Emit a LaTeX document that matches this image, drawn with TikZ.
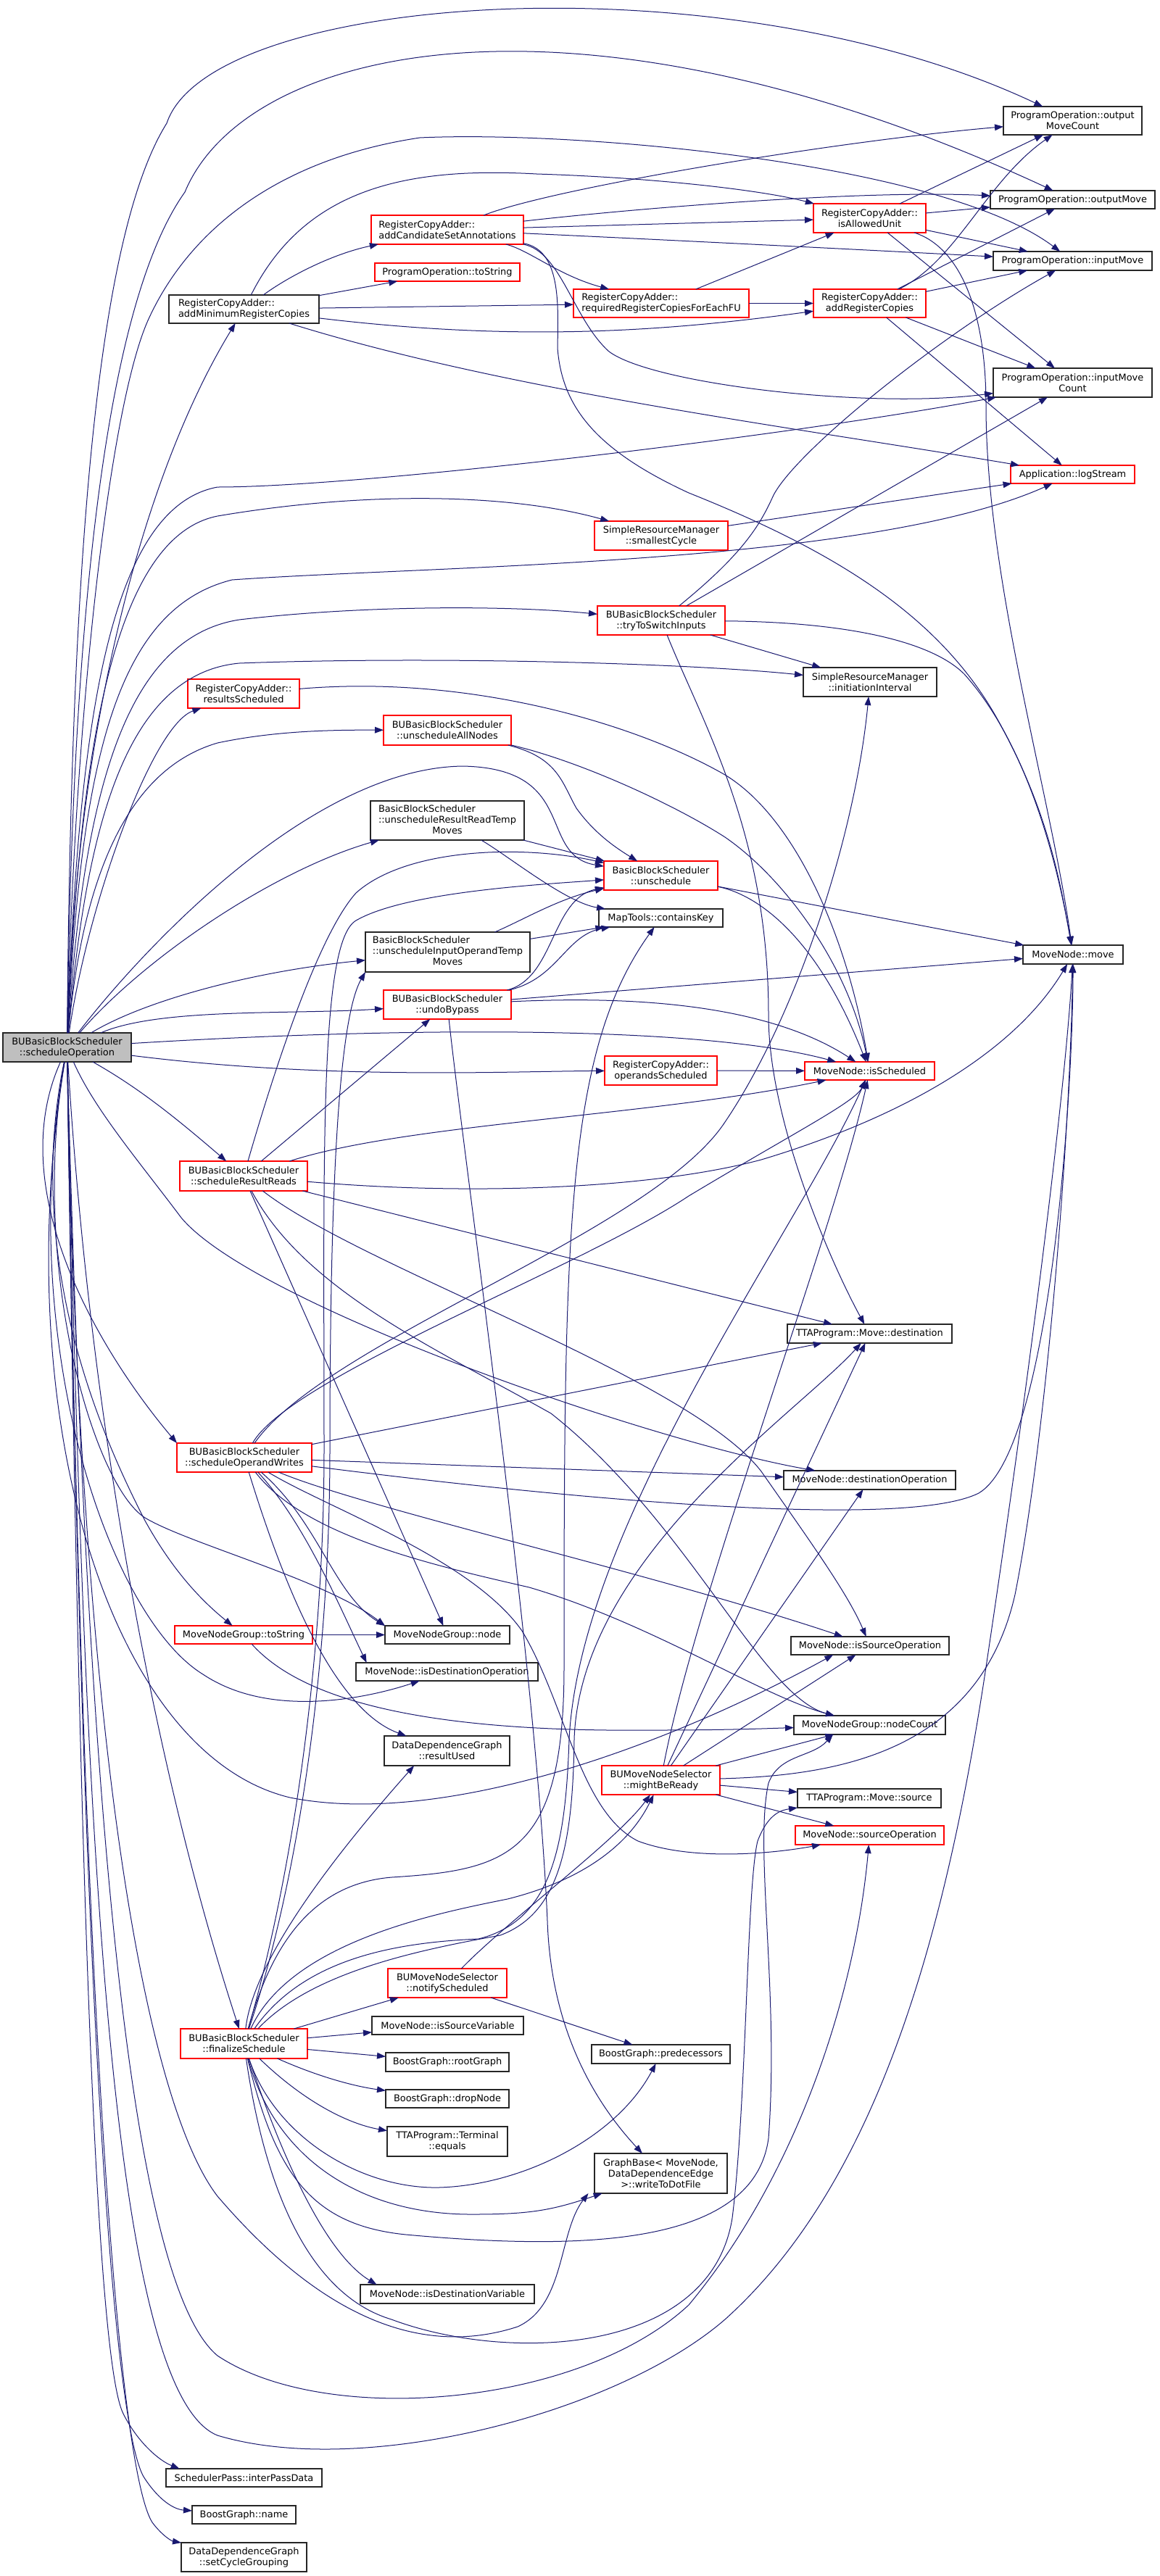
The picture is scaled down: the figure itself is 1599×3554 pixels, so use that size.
\documentclass[tikz,border=0pt]{standalone}
\usepackage{fontspec}
\setmainfont{DejaVu Sans}
\usetikzlibrary{arrows.meta}
\definecolor{edgec}{HTML}{191970}
\definecolor{redc}{HTML}{FF0000}
\definecolor{rootc}{HTML}{BFBFBF}
\newcommand{\nd}[7]{\node[#6, minimum width={(#4-#2)*0.75pt}, minimum height={(#5-#3)*0.75pt}] (#1) at ({(#2+#4)/2},{(#3+#5)/2}) {#7};}
\begin{document}
\begin{tikzpicture}[x=0.75pt,y=-0.75pt,
  font=\fontsize{9.7}{11.25}\selectfont,
  base/.style={inner sep=0pt, outer sep=0pt, line width=1.1pt, fill=white},
  knode/.style={base, draw=black!85, align=center},
  tnode/.style={base, draw=black!85},
  rnode/.style={base, draw=redc, align=center},
  gnode/.style={base, draw=black!85, fill=rootc, align=center},
  lft/.style={align=left},
  calls/.style={draw=edgec, line width=0.75pt, -{Triangle[length=9pt,width=6.5pt]}}]
\useasboundingbox (0,0) rectangle (1599,3554);
\fill[white] (0,0) rectangle (1599,3554);
% ---------------- nodes ----------------
\nd{root}{4}{1425}{181}{1465}{gnode}{BUBasicBlockScheduler\\::scheduleOperation}
\nd{amrc}{233}{407}{440}{446}{knode,lft}{RegisterCopyAdder::\\addMinimumRegisterCopies}
\nd{acsa}{512}{297}{722}{337}{rnode,lft}{RegisterCopyAdder::\\addCandidateSetAnnotations}
\nd{tostr}{517}{363}{717}{388}{rnode}{ProgramOperation::toString}
\nd{rrc}{791}{399}{1033}{438}{rnode,lft}{RegisterCopyAdder::\\requiredRegisterCopiesForEachFU}
\nd{iau}{1122}{281}{1277}{321}{rnode}{RegisterCopyAdder::\\isAllowedUnit}
\nd{arc}{1122}{399}{1277}{438}{rnode}{RegisterCopyAdder::\\addRegisterCopies}
\nd{omc}{1384}{147}{1575}{186}{knode}{ProgramOperation::output\\MoveCount}
\nd{om}{1366}{263}{1593}{288}{knode}{ProgramOperation::outputMove}
\nd{im}{1370}{347}{1589}{373}{knode}{ProgramOperation::inputMove}
\nd{imc}{1370}{508}{1589}{548}{knode}{ProgramOperation::inputMove\\Count}
\nd{log}{1394}{642}{1565}{667}{rnode}{Application::logStream}
\nd{sc}{820}{719}{1004}{759}{rnode}{SimpleResourceManager\\::smallestCycle}
\nd{tts}{824}{836}{1000}{876}{rnode}{BUBasicBlockScheduler\\::tryToSwitchInputs}
\nd{ii}{1108}{921}{1292}{961}{knode}{SimpleResourceManager\\::initiationInterval}
\nd{rs}{259}{937}{413}{977}{rnode}{RegisterCopyAdder::\\resultsScheduled}
\nd{uan}{529}{987}{705}{1028}{rnode}{BUBasicBlockScheduler\\::unscheduleAllNodes}
\nd{urr}{511}{1105}{723}{1159}{tnode}{\begin{tabular}{@{}l@{}}BasicBlockScheduler\\::unscheduleResultReadTemp\\\multicolumn{1}{@{}c@{}}{Moves}\end{tabular}}
\nd{uns}{833}{1188}{990}{1228}{rnode}{BasicBlockScheduler\\::unschedule}
\nd{ck}{826}{1254}{997}{1279}{knode}{MapTools::containsKey}
\nd{uio}{504}{1286}{731}{1341}{tnode}{\begin{tabular}{@{}l@{}}BasicBlockScheduler\\::unscheduleInputOperandTemp\\\multicolumn{1}{@{}c@{}}{Moves}\end{tabular}}
\nd{ub}{529}{1366}{705}{1406}{rnode}{BUBasicBlockScheduler\\::undoBypass}
\nd{mv}{1411}{1304}{1549}{1330}{knode}{MoveNode::move}
\nd{os}{834}{1457}{989}{1497}{rnode}{RegisterCopyAdder::\\operandsScheduled}
\nd{isch}{1110}{1465}{1289}{1490}{rnode}{MoveNode::isScheduled}
\nd{srr}{248}{1602}{424}{1643}{rnode}{BUBasicBlockScheduler\\::scheduleResultReads}
\nd{mdst}{1086}{1827}{1313}{1853}{knode}{TTAProgram::Move::destination}
\nd{sow}{244}{1991}{430}{2031}{rnode}{BUBasicBlockScheduler\\::scheduleOperandWrites}
\nd{dop}{1081}{2029}{1318}{2055}{knode}{MoveNode::destinationOperation}
\nd{mts}{241}{2243}{431}{2268}{rnode}{MoveNodeGroup::toString}
\nd{mnode}{531}{2243}{703}{2268}{knode}{MoveNodeGroup::node}
\nd{iso}{1091}{2258}{1309}{2283}{knode}{MoveNode::isSourceOperation}
\nd{ido}{491}{2294}{742}{2319}{knode}{MoveNode::isDestinationOperation}
\nd{nc}{1095}{2367}{1304}{2393}{knode}{MoveNodeGroup::nodeCount}
\nd{ru}{530}{2395}{703}{2436}{knode}{DataDependenceGraph\\::resultUsed}
\nd{mbr}{830}{2436}{993}{2476}{rnode}{BUMoveNodeSelector\\::mightBeReady}
\nd{msrc}{1100}{2468}{1298}{2494}{knode}{TTAProgram::Move::source}
\nd{sop}{1097}{2519}{1302}{2545}{rnode}{MoveNode::sourceOperation}
\nd{ns}{535}{2716}{699}{2756}{rnode}{BUMoveNodeSelector\\::notifyScheduled}
\nd{fs}{249}{2799}{424}{2840}{rnode}{BUBasicBlockScheduler\\::finalizeSchedule}
\nd{isv}{513}{2782}{722}{2807}{knode}{MoveNode::isSourceVariable}
\nd{rg}{532}{2832}{702}{2858}{knode}{BoostGraph::rootGraph}
\nd{pred}{816}{2821}{1007}{2847}{knode}{BoostGraph::predecessors}
\nd{dn}{532}{2883}{702}{2908}{knode}{BoostGraph::dropNode}
\nd{teq}{534}{2934}{700}{2975}{knode}{TTAProgram::Terminal\\::equals}
\nd{wdf}{820}{2971}{1003}{3026}{knode}{GraphBase< MoveNode,\\DataDependenceEdge\\>::writeToDotFile}
\nd{idv}{497}{3152}{737}{3178}{knode}{MoveNode::isDestinationVariable}
\nd{ipd}{229}{3406}{444}{3431}{knode}{SchedulerPass::interPassData}
\nd{bgn}{265}{3457}{408}{3482}{knode}{BoostGraph::name}
\nd{scg}{250}{3508}{423}{3548}{knode}{DataDependenceGraph\\::setCycleGrouping}
% ---------------- edges: top group ----------------
\draw[calls] (root) .. controls (98,800) and (130,330) .. (230,170) .. controls (290,-10) and (1000,-60) .. (omc);
\draw[calls] (root) .. controls (100,850) and (145,420) .. (255,265) .. controls (340,60) and (800,-40) .. (om);
\draw[calls] (root) .. controls (102,1000) and (150,560) .. (205,440) .. controls (260,320) and (380,220) .. (579,190) .. controls (800,180) and (1300,225) .. (im);
\draw[calls] (root) .. controls (105,1000) and (200,650) .. (amrc);
\draw[calls] (amrc) .. controls (400,380) and (460,350) .. (acsa);
\draw[calls] (amrc) -- (tostr);
\draw[calls] (amrc) -- (rrc);
\draw[calls] (amrc) .. controls (700,470) and (900,460) .. (arc);
\draw[calls] (amrc) .. controls (420,260) and (560,230) .. (740,240) .. controls (900,245) and (1050,262) .. (iau);
\draw[calls] (amrc) .. controls (700,540) and (1100,590) .. (log);
\draw[calls] (acsa) .. controls (760,260) and (1150,195) .. (omc);
\draw[calls] (acsa) .. controls (900,285) and (1200,262) .. (om);
\draw[calls] (acsa) -- (iau);
\draw[calls] (acsa) .. controls (900,330) and (1200,345) .. (im);
\draw[calls] (acsa) .. controls (730,345) and (770,380) .. (rrc);
\draw[calls] (acsa) .. controls (774,347) and (790,440) .. (840,485) .. controls (900,530) and (1200,565) .. (imc);
\draw[calls] (acsa) .. controls (774,345) and (770,420) .. (769,480) .. controls (775,560) and (820,620) .. (950,680) .. controls (1150,760) and (1300,850) .. (1380,1000) .. controls (1440,1110) and (1460,1200) .. (mv);
\draw[calls] (rrc) -- (iau);
\draw[calls] (rrc) -- (arc);
\draw[calls] (iau) -- (omc);
\draw[calls] (iau) -- (om);
\draw[calls] (iau) -- (im);
\draw[calls] (iau) -- (imc);
\draw[calls] (iau) .. controls (1320,340) and (1360,420) .. (1360,560) .. controls (1360,800) and (1450,1100) .. (mv);
\draw[calls] (arc) .. controls (1320,360) and (1360,250) .. (omc);
\draw[calls] (arc) -- (om);
\draw[calls] (arc) -- (im);
\draw[calls] (arc) -- (imc);
\draw[calls] (arc) -- (log);
% ---------------- root: middle ----------------
\draw[calls] (root) .. controls (108,1000) and (150,700) .. (300,672) .. controls (500,672) and (1100,600) .. (imc);
\draw[calls] (root) .. controls (110,1020) and (160,740) .. (300,712) .. controls (500,678) and (700,680) .. (sc);
\draw[calls] (sc) -- (log);
\draw[calls] (root) .. controls (112,1050) and (160,840) .. (320,800) .. controls (600,780) and (1200,780) .. (log);
\draw[calls] (root) .. controls (115,1100) and (170,880) .. (330,855) .. controls (500,835) and (700,835) .. (tts);
\draw[calls] (tts) .. controls (1030,760) and (1050,720) .. (1067,683) .. controls (1100,620) and (1300,460) .. (im);
\draw[calls] (tts) -- (imc);
\draw[calls] (tts) -- (ii);
\draw[calls] (tts) .. controls (1150,858) and (1280,880) .. (1330,930) .. controls (1420,1030) and (1460,1200) .. (mv);
\draw[calls] (tts) .. controls (970,1000) and (1060,1150) .. (1060,1400) .. controls (1060,1550) and (1150,1750) .. (mdst);
\draw[calls] (root) .. controls (118,1150) and (170,930) .. (330,915) .. controls (600,905) and (950,915) .. (ii);
\draw[calls] (root) .. controls (120,1250) and (210,1000) .. (rs);
\draw[calls] (rs) .. controls (650,930) and (880,1000) .. (1000,1069) .. controls (1100,1130) and (1170,1300) .. (isch);
\draw[calls] (root) .. controls (115,1200) and (180,1060) .. (300,1025) .. controls (380,1008) and (460,1007) .. (uan);
\draw[calls] (uan) .. controls (770,1045) and (775,1080) .. (795,1115) .. controls (820,1150) and (850,1170) .. (uns);
\draw[calls] (uan) .. controls (800,1050) and (930,1110) .. (1000,1155) .. controls (1080,1210) and (1170,1330) .. (isch);
\draw[calls] (root) .. controls (180,1330) and (420,1060) .. (638,1057) .. controls (800,1060) and (740,1180) .. (uns);
\draw[calls] (root) .. controls (200,1320) and (380,1200) .. (urr);
\draw[calls] (urr) -- (uns);
\draw[calls] (urr) .. controls (700,1180) and (780,1245) .. (ck);
\draw[calls] (uns) -- (mv);
\draw[calls] (uns) .. controls (1050,1235) and (1130,1300) .. (isch);
\draw[calls] (root) .. controls (200,1380) and (350,1340) .. (uio);
\draw[calls] (uio) .. controls (720,1270) and (770,1240) .. (uns);
\draw[calls] (uio) -- (ck);
\draw[calls] (root) .. controls (220,1390) and (400,1400) .. (ub);
\draw[calls] (ub) .. controls (765,1350) and (760,1240) .. (uns);
\draw[calls] (ub) .. controls (770,1350) and (780,1290) .. (ck);
\draw[calls] (ub) -- (mv);
\draw[calls] (ub) .. controls (850,1375) and (1050,1380) .. (isch);
\draw[calls] (ub) .. controls (640,1600) and (740,2300) .. (755,2650) .. controls (760,2800) and (820,2900) .. (wdf);
\draw[calls] (root) .. controls (500,1420) and (950,1410) .. (isch);
\draw[calls] (root) .. controls (450,1490) and (700,1478) .. (os);
\draw[calls] (os) -- (isch);
% ---------------- scheduleResultReads ----------------
\draw[calls] (root) .. controls (190,1500) and (240,1540) .. (srr);
\draw[calls] (srr) .. controls (360,1540) and (430,1300) .. (491,1232) .. controls (560,1170) and (720,1165) .. (uns);
\draw[calls] (srr) -- (ub);
\draw[calls] (srr) .. controls (560,1550) and (900,1540) .. (isch);
\draw[calls] (srr) .. controls (650,1650) and (900,1640) .. (1050,1600) .. controls (1250,1540) and (1400,1450) .. (mv);
\draw[calls] (srr) -- (mdst);
\draw[calls] (srr) .. controls (420,1780) and (600,1860) .. (760,1950) .. controls (950,2100) and (1050,2340) .. (nc);
\draw[calls] (srr) -- (mnode);
\draw[calls] (srr) .. controls (500,1750) and (950,1900) .. (1050,2030) .. controls (1120,2130) and (1170,2200) .. (iso);
\draw[calls] (root) .. controls (130,1530) and (190,1600) .. (250,1680) .. controls (350,1800) and (900,1990) .. (dop);
% ---------------- scheduleOperandWrites ----------------
\draw[calls] (root) .. controls (0,1650) and (150,1880) .. (sow.north west);
\draw[calls] (sow) -- (dop);
\draw[calls] (sow) .. controls (800,2070) and (1250,2110) .. (1350,2060) .. controls (1450,2000) and (1480,1500) .. (mv);
\draw[calls] (sow) .. controls (500,2080) and (900,2170) .. (iso);
\draw[calls] (sow) .. controls (420,2120) and (600,2160) .. (730,2190) .. controls (900,2240) and (1050,2340) .. (nc);
\draw[calls] (sow) .. controls (440,2100) and (460,2200) .. (mnode.north west);
\draw[calls] (sow) .. controls (420,2100) and (470,2220) .. ([xshift=11pt]ido.north west);
\draw[calls] (sow) .. controls (380,2150) and (451,2355) .. (ru);
\draw[calls] (sow) -- (mdst);
\draw[calls] (sow) .. controls (450,1850) and (900,1700) .. (1000,1548) .. controls (1100,1400) and (1180,1150) .. (ii);
\draw[calls] (sow) .. controls (400,1900) and (800,1750) .. (950,1650) .. controls (1100,1560) and (1180,1520) .. (isch);
\draw[calls] (sow) .. controls (450,2080) and (650,2150) .. (720,2250) .. controls (780,2350) and (800,2500) .. (880,2540) .. controls (960,2570) and (1080,2555) .. (sop);
% ---------------- MoveNodeGroup etc ----------------
\draw[calls] (root) .. controls (30,1750) and (150,2000) .. (200,2098) .. controls (240,2170) and (280,2210) .. (mts);
\draw[calls] (mts) -- (mnode);
\draw[calls] (mts) .. controls (420,2350) and (600,2390) .. (900,2387) .. controls (1000,2387) and (1050,2385) .. (nc);
\draw[calls] (root) .. controls (40,1750) and (130,2050) .. (200,2094) .. controls (260,2130) and (450,2180) .. (mnode.north west);
\draw[calls] (root) .. controls (20,1850) and (150,2230) .. (280,2310) .. controls (370,2370) and (500,2345) .. (ido);
\draw[calls] (root) .. controls (10,1950) and (150,2420) .. (400,2480) .. controls (600,2520) and (900,2420) .. ([xshift=-38pt]iso.south);
% ---------------- mightBeReady ----------------
\draw[calls] (mbr) .. controls (960,2200) and (1150,1700) .. (isch);
\draw[calls] (mbr) -- (mdst);
\draw[calls] (mbr) -- (dop);
\draw[calls] (mbr) -- (iso);
\draw[calls] (mbr) -- (nc);
\draw[calls] (mbr) .. controls (1150,2450) and (1350,2420) .. (1400,2200) .. controls (1440,2000) and (1475,1600) .. (mv);
\draw[calls] (mbr) -- (msrc);
\draw[calls] (mbr) -- (sop);
% ---------------- finalizeSchedule ----------------
\draw[calls] (root) .. controls (120,1900) and (200,2400) .. (fs);
\draw[calls] (fs) -- (ns);
\draw[calls] (fs) -- (isv);
\draw[calls] (fs) -- (rg);
\draw[calls] (fs) .. controls (450,2870) and (500,2880) .. (dn);
\draw[calls] (fs) .. controls (420,2900) and (480,2930) .. (teq);
\draw[calls] (fs) .. controls (380,2950) and (500,3020) .. (605,3018) .. controls (720,3015) and (850,2950) .. (pred);
\draw[calls] (fs) .. controls (380,2980) and (500,3055) .. (650,3055) .. controls (730,3055) and (760,3050) .. (wdf);
\draw[calls] (fs) .. controls (390,2980) and (450,3110) .. ([xshift=17pt]idv.north west);
\draw[calls] (fs) .. controls (350,2700) and (470,2550) .. ([xshift=-34pt]ru.south);
\draw[calls] (fs) .. controls (370,2700) and (420,2600) .. (540,2590) .. controls (700,2580) and (778,2560) .. (778,2300) .. controls (778,1700) and (780,1450) .. (ck);
\draw[calls] (fs) .. controls (420,2700) and (550,2680) .. (660,2675) .. controls (760,2650) and (780,2550) .. (785,2400) .. controls (800,2100) and (1100,1700) .. (isch);
\draw[calls] (fs) .. controls (430,2720) and (580,2690) .. (690,2670) .. controls (770,2640) and (790,2550) .. (792,2400) .. controls (800,2150) and (1100,1950) .. (mdst);
\draw[calls] (fs) .. controls (400,2680) and (600,2640) .. (700,2620) .. controls (780,2600) and (860,2560) .. (mbr);
\draw[calls] (fs) .. controls (400,2600) and (447,2300) .. (447,2000) .. controls (447,1600) and (440,1300) .. (491,1270) .. controls (560,1230) and (750,1220) .. (uns);
\draw[calls] (fs) .. controls (410,2600) and (455,2300) .. (455,2000) .. controls (455,1600) and (470,1400) .. (uio.south west);
\draw[calls] (fs) .. controls (380,3000) and (430,3070) .. (560,3083) .. controls (800,3105) and (1040,3100) .. (1060,2950) .. controls (1075,2750) and (1040,2550) .. (1060,2460) .. controls (1075,2420) and (1120,2425) .. ([xshift=-38pt]nc.south);
\draw[calls] (fs) .. controls (370,3050) and (440,3170) .. (540,3200) .. controls (700,3260) and (980,3250) .. (1010,3060) .. controls (1030,2900) and (1030,2600) .. (1045,2540) .. controls (1060,2500) and (1080,2497) .. (msrc.south west);
\draw[calls] (ns) .. controls (700,2650) and (850,2540) .. (mbr);
\draw[calls] (ns) -- (pred);
% ---------------- root: bottom ----------------
\draw[calls] (root) .. controls (115,2500) and (150,3300) .. (300,3360) .. controls (500,3420) and (850,3330) .. (1000,3200) .. controls (1200,3020) and (1300,2700) .. (1360,2300) .. controls (1420,1900) and (1470,1500) .. (mv);
\draw[calls] (root) .. controls (120,2500) and (180,3150) .. (300,3250) .. controls (450,3350) and (800,3320) .. (950,3180) .. controls (1100,3000) and (1180,2750) .. (sop);
\draw[calls] (root) .. controls (110,2400) and (200,2900) .. (300,3030) .. controls (420,3170) and (560,3260) .. (714,3210) .. controls (780,3180) and (770,3080) .. ([xshift=-75pt]wdf.south);
\draw[calls] (root) .. controls (108,2500) and (130,3250) .. (170,3330) .. controls (190,3370) and (220,3395) .. ([xshift=14pt]ipd.north west);
\draw[calls] (root) .. controls (110,2600) and (150,3350) .. (200,3420) .. controls (220,3450) and (240,3462) .. (bgn);
\draw[calls] (root) .. controls (112,2700) and (160,3400) .. (210,3480) .. controls (225,3500) and (238,3506) .. (scg.north west);
\end{tikzpicture}
\end{document}
